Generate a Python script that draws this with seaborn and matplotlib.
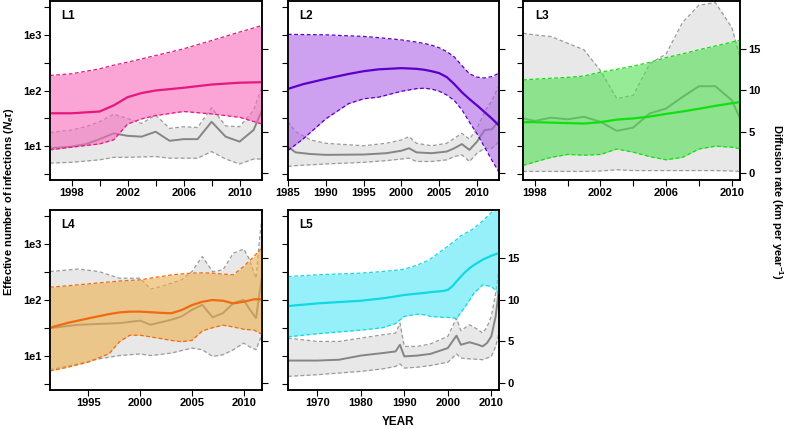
import matplotlib
matplotlib.use('Agg')

import matplotlib.pyplot as plt
import seaborn as sns
from matplotlib.ticker import FixedLocator, NullFormatter

# ---- data ----
# L1
l1_ne_yr = [1996.45, 1998, 2000, 2001, 2002, 2003, 2004, 2006, 2008, 2010, 2011.6]
l1_ne_hi = [186, 200, 245, 285, 323, 370, 425, 560, 790, 1120, 1470]
l1_ne_med = [39, 39, 42, 54, 76, 90, 100, 112, 128, 138, 141]
l1_ne_lo = [8.6, 9.6, 11, 13, 25, 31, 35.5, 42, 38, 33, 25]
l1_dr_yr = [1996.45, 1998, 1999, 2000, 2001, 2002, 2003, 2004, 2005, 2006, 2007, 2008, 2009, 2010, 2011, 2011.6]
l1_dr_hi = [4.9, 5.2, 5.6, 6.2, 7.1, 6.6, 6.0, 7.0, 5.4, 5.6, 5.5, 7.9, 5.7, 5.6, 7.6, 10.4]
l1_dr_med = [3.0, 3.2, 3.5, 4.1, 4.8, 4.5, 4.4, 5.0, 3.9, 4.1, 4.1, 6.2, 4.4, 3.8, 5.2, 7.6]
l1_dr_lo = [1.2, 1.3, 1.45, 1.6, 1.9, 1.9, 1.95, 2.0, 1.8, 1.8, 1.8, 2.6, 1.7, 1.1, 1.7, 1.7]

# L2
l2_ne_yr = [1985, 1987, 1990, 1993, 1995, 1997, 2000, 2002, 2003, 2004, 2005, 2006, 2007, 2008, 2009, 2010, 2011, 2012, 2012.9]
l2_ne_hi = [1020, 1010, 1000, 960, 935, 890, 810, 740, 700, 650, 585, 500, 400, 280, 200, 174, 168, 178, 205]
l2_ne_med = [107, 130, 162, 198, 222, 240, 252, 245, 236, 222, 205, 174, 130, 93, 70, 54, 41, 31, 23.5]
l2_ne_lo = [8.4, 13.5, 31, 58, 71, 76, 97, 108, 110, 106, 97, 83, 66, 45, 27, 16.7, 9.6, 5.5, 3.4]
l2_dr_yr = [1985, 1986, 1988, 1990, 1995, 1998, 2000, 2001, 2002, 2004, 2006, 2007, 2008, 2009, 2010, 2011, 2012, 2012.9]
l2_dr_hi = [6.2, 5.0, 4.0, 3.6, 3.3, 3.6, 4.0, 4.4, 3.6, 3.3, 3.6, 4.2, 4.8, 4.1, 5.4, 7.4, 8.8, 10.6]
l2_dr_med = [3.2, 2.5, 2.3, 2.2, 2.24, 2.4, 2.7, 3.0, 2.5, 2.4, 2.6, 3.0, 3.5, 2.8, 3.8, 5.2, 5.3, 6.4]
l2_dr_lo = [0.8, 0.9, 1.0, 1.1, 1.3, 1.5, 1.7, 1.8, 1.4, 1.4, 1.6, 2.0, 2.2, 1.4, 2.4, 3.0, 3.0, 3.8]

# L3
l3_ne_yr = [1997.29, 1998, 1999, 2000, 2001, 2002, 2003, 2004, 2005, 2006, 2007, 2008, 2009, 2010, 2010.5]
l3_ne_hi = [155, 160, 166, 172, 182, 214, 240, 275, 320, 390, 455, 540, 630, 740, 800]
l3_ne_med = [27, 27, 26.5, 26, 25.5, 27, 30, 31.5, 34, 38, 42, 47, 53, 59, 62]
l3_ne_lo = [4.5, 5.2, 6.3, 7.1, 6.9, 7.1, 8.9, 7.8, 6.5, 5.7, 6.3, 8.9, 10, 9.6, 9.0]
l3_dr_yr = [1997.29, 1998, 1999, 2000, 2001, 2002, 2003, 2004, 2005, 2006, 2007, 2008, 2009, 2010, 2010.5]
l3_dr_hi = [16.9, 16.7, 16.5, 15.7, 14.9, 12.4, 9.0, 9.4, 13.2, 14.4, 18.2, 20.3, 20.6, 17.6, 14.0]
l3_dr_med = [6.6, 6.3, 6.7, 6.5, 6.8, 6.2, 5.1, 5.5, 7.2, 7.8, 9.2, 10.5, 10.5, 8.8, 6.6]
l3_dr_lo = [0.2, 0.2, 0.2, 0.2, 0.2, 0.25, 0.4, 0.3, 0.3, 0.3, 0.3, 0.3, 0.3, 0.25, 0.2]

# L4
l4_ne_yr = [1991.29, 1993, 1995, 1997, 1998, 1999, 2000, 2002, 2003, 2004, 2005, 2006, 2007, 2008, 2009, 2010, 2011, 2011.77]
l4_ne_hi = [169, 180, 194, 210, 218, 224, 229, 262, 280, 292, 302, 305, 302, 290, 282, 398, 600, 850]
l4_ne_med = [32, 39, 47, 56, 60, 62, 62, 59, 58, 66, 81, 93, 100, 97, 87, 93, 103, 103]
l4_ne_lo = [5.4, 6.3, 7.8, 11, 18, 23.5, 23.5, 20.5, 19, 18, 19, 28, 32, 35.5, 33, 30, 29, 24.5]
l4_dr_yr = [1991.29, 1994, 1996, 1998, 2000, 2001, 2002, 2003, 2004, 2005, 2006, 2007, 2008, 2009, 2010, 2010.5, 2011.2, 2011.5, 2011.77]
l4_dr_hi = [13.4, 13.7, 13.4, 12.6, 12.6, 11.3, 11.6, 12.0, 12.4, 13.4, 15.2, 13.4, 13.6, 15.6, 16.1, 15.0, 12.6, 16.8, 20.0]
l4_dr_med = [6.6, 7.0, 7.1, 7.2, 7.5, 7.0, 7.3, 7.6, 8.0, 8.8, 9.4, 7.9, 8.4, 9.6, 10.0, 9.0, 7.8, 10.5, 12.8]
l4_dr_lo = [1.6, 2.3, 2.9, 3.3, 3.5, 3.3, 3.45, 3.6, 3.9, 4.2, 4.0, 3.2, 3.4, 4.0, 4.8, 4.4, 4.0, 5.0, 5.8]

# L5
l5_ne_yr = [1963.26, 1970, 1980, 1985, 1988, 1990, 1993, 1995, 1996, 1999, 2000, 2001, 2002, 2003, 2004, 2005, 2006, 2008, 2010, 2011.76]
l5_ne_hi = [262, 282, 302, 323, 340, 355, 420, 490, 540, 800, 910, 1050, 1200, 1400, 1550, 1700, 1900, 2570, 3640, 4800]
l5_ne_med = [78, 87, 97, 107, 116, 123, 130, 135, 138, 145, 152, 174, 215, 262, 315, 370, 420, 525, 617, 690]
l5_ne_lo = [22, 25, 29, 32, 38, 51, 56, 54, 51, 49, 49, 48, 47, 60, 76, 100, 132, 186, 174, 132]
l5_dr_yr = [1963.26, 1970, 1975, 1980, 1985, 1988, 1989, 1990, 1993, 1996, 2000, 2002, 2003, 2005, 2007, 2008, 2009, 2010, 2011, 2011.76]
l5_dr_hi = [5.4, 5.0, 5.0, 5.4, 5.8, 6.0, 7.2, 4.4, 4.4, 4.7, 5.6, 7.8, 6.3, 7.0, 6.4, 6.0, 6.7, 8.0, 10.8, 13.6]
l5_dr_med = [2.7, 2.7, 2.8, 3.3, 3.6, 3.8, 4.6, 3.2, 3.3, 3.5, 4.2, 5.7, 4.6, 4.9, 4.6, 4.4, 4.8, 5.6, 8.0, 11.2]
l5_dr_lo = [0.8, 1.0, 1.2, 1.4, 1.7, 2.0, 2.3, 1.8, 1.9, 2.1, 2.5, 3.5, 3.0, 2.9, 2.85, 2.8, 3.0, 3.2, 4.4, 6.0]

sns.set_style('ticks')
plt.rcParams['font.family'] = ['Liberation Sans', 'DejaVu Sans']
plt.rcParams['mathtext.fontset'] = 'custom'
plt.rcParams['mathtext.rm'] = 'Liberation Sans:bold'
plt.rcParams['mathtext.it'] = 'Liberation Sans:italic:bold'
plt.rcParams['text.color'] = 'black'
plt.rcParams['xtick.color'] = 'black'
plt.rcParams['ytick.color'] = 'black'
plt.rcParams['xtick.labelcolor'] = 'black'
plt.rcParams['ytick.labelcolor'] = 'black'

fig = plt.figure(figsize=(7.86, 4.29), dpi=100)

GREY_FILL = '#e8e8e8'
GREY_LINE = '#858585'
GREY_DASH = '#9a9a9a'


def draw_panel(rect, label, ne, dr, fill, line, xlim, xmajor, xminor, show_left, show_right):
    ax = fig.add_axes(rect)
    tw = ax.twinx()
    ax.set_zorder(tw.get_zorder() + 1)
    ax.patch.set_visible(False)

    # diffusion rate (grey, right axis)
    yr, lo, med, hi = dr
    tw.fill_between(yr, lo, hi, color=GREY_FILL, lw=0)
    for edge in (lo, hi):
        tw.plot(yr, edge, color=GREY_DASH, lw=0.9, ls=(0, (3, 2)))
    sns.lineplot(x=yr, y=med, ax=tw, color=GREY_LINE, lw=1.4)

    # effective number of infections (colour, left axis)
    yr, lo, med, hi = ne
    ax.fill_between(yr, lo, hi, color=fill, alpha=0.6, lw=0)
    for edge in (lo, hi):
        ax.plot(yr, edge, color=line, lw=0.9, ls=(0, (3, 2)))
    sns.lineplot(x=yr, y=med, ax=ax, color=line, lw=1.6)

    ax.set_yscale('log')
    ax.set_ylim(2.47, 4050)
    tw.set_ylim(-0.84, 20.8)
    ax.set_xlim(*xlim)

    ax.yaxis.set_major_locator(FixedLocator([10, 100, 1000]))
    ax.yaxis.set_minor_locator(FixedLocator([10 ** 0.5, 10 ** 1.5, 10 ** 2.5, 10 ** 3.5]))
    ax.yaxis.set_minor_formatter(NullFormatter())
    ax.set_yticklabels(['1e1', '1e2', '1e3'])
    tw.set_yticks([0, 5, 10, 15])
    ax.set_xticks(xmajor)
    ax.set_xticks(xminor, minor=True)
    ax.set_xticklabels([str(x) for x in xmajor])

    for a in (ax, tw):
        a.tick_params(which='both', direction='out', length=4, width=0.8,
                      labelsize=8, pad=2, color='black', labelcolor='black')
        for s in a.spines.values():
            s.set_color('black')
            s.set_linewidth(1.1)
        a.set_xlabel('')
        a.set_ylabel('')
    for t in ax.get_xticklabels() + ax.get_yticklabels() + tw.get_yticklabels():
        t.set_fontweight('bold')
    ax.tick_params(labelleft=show_left)
    tw.tick_params(labelright=show_right)
    ax.text(0.055, 0.915, label, transform=ax.transAxes, fontsize=8.5,
            fontweight='bold', va='center', ha='left')


top = [0.5804, 0.4173]
bot = [0.0909, 0.4196]
draw_panel([0.0636, top[0], 0.2697, top[1]], 'L1',
           (l1_ne_yr, l1_ne_lo, l1_ne_med, l1_ne_hi), (l1_dr_yr, l1_dr_lo, l1_dr_med, l1_dr_hi),
           '#f769bc', '#e6177e', (1996.45, 2011.6), [1998, 2002, 2006, 2010], [2000, 2004, 2008], True, False)
draw_panel([0.3664, top[0], 0.2684, top[1]], 'L2',
           (l2_ne_yr, l2_ne_lo, l2_ne_med, l2_ne_hi), (l2_dr_yr, l2_dr_lo, l2_dr_med, l2_dr_hi),
           '#ac61e6', '#5a00c8', (1985, 2012.9), [1985, 1990, 1995, 2000, 2005, 2010], [], False, False)
draw_panel([0.6654, top[0], 0.2761, top[1]], 'L3',
           (l3_ne_yr, l3_ne_lo, l3_ne_med, l3_ne_hi), (l3_dr_yr, l3_dr_lo, l3_dr_med, l3_dr_hi),
           '#50de50', '#10e010', (1997.29, 2010.5), [1998, 2002, 2006, 2010], [2000, 2004, 2008], False, True)
draw_panel([0.0636, bot[0], 0.2697, bot[1]], 'L4',
           (l4_ne_yr, l4_ne_lo, l4_ne_med, l4_ne_hi), (l4_dr_yr, l4_dr_lo, l4_dr_med, l4_dr_hi),
           '#eeb04e', '#f06a10', (1991.29, 2011.77), [1995, 2000, 2005, 2010], [], True, False)
draw_panel([0.3664, bot[0], 0.2684, bot[1]], 'L5',
           (l5_ne_yr, l5_ne_lo, l5_ne_med, l5_ne_hi), (l5_dr_yr, l5_dr_lo, l5_dr_med, l5_dr_hi),
           '#50e6f7', '#10d8e4', (1963.26, 2011.76), [1970, 1980, 1990, 2000, 2010], [], False, True)

fig.text(0.011, 0.529, r'Effective number of infections ($N_e\tau$)', rotation=90,
         va='center', ha='center', fontsize=8, fontweight='bold')
fig.text(0.989, 0.529, r'Diffusion rate (km per year$^{-1}$)', rotation=270,
         va='center', ha='center', fontsize=8, fontweight='bold')
fig.text(0.506, 0.016, 'YEAR', va='center', ha='center', fontsize=8.5, fontweight='bold')

plt.savefig('out.png', dpi=100)
